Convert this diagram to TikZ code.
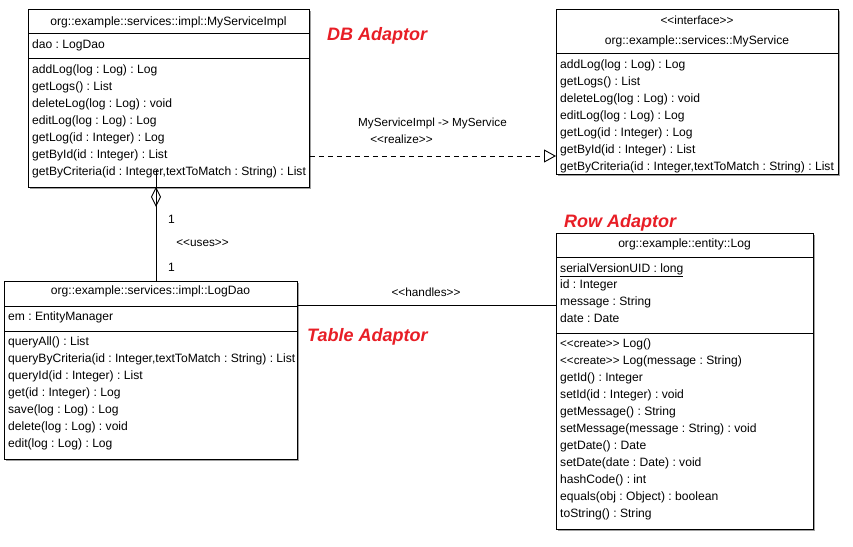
\documentclass[tikz,border=0pt]{standalone}
\usepackage{fontspec}
\setmainfont{Liberation Sans}
\usetikzlibrary{arrows.meta}
\definecolor{adred}{RGB}{232,30,38}
\definecolor{shadowgray}{RGB}{160,160,160}
\newcommand\stl{<\kern0pt<}
\newcommand\stg{>\kern0pt>}
\tikzset{
  umlbox/.style={draw=black, fill=white, line width=0.9pt, anchor=north west, inner sep=0pt},
  body/.style={anchor=base west, inner sep=0pt, font=\fontsize{12.1}{14}\selectfont\frenchspacing},
  head/.style={anchor=base, inner sep=0pt, font=\fontsize{12.1}{14}\selectfont\frenchspacing},
  stereo/.style={anchor=base, inner sep=0pt, font=\fontsize{11.8}{13}\selectfont\frenchspacing},
  adlabel/.style={anchor=base west, inner sep=0pt, text=adred, font=\fontsize{18}{20}\selectfont\bfseries\itshape},
  sep/.style={line width=0.9pt},
  conn/.style={line width=0.9pt},
  shadowbox/.style={fill=shadowgray, draw=none}
}
\begin{document}
\begin{tikzpicture}[x=1pt,y=-1pt]
\useasboundingbox[fill=white] (0,0) rectangle (853,546);

% ---------- shadows ----------
\fill[shadowbox] (30,11) rectangle (311,189);
\fill[shadowbox] (558,11) rectangle (840,176);
\fill[shadowbox] (6,283) rectangle (299,461);
\fill[shadowbox] (558,235) rectangle (815,531);

% ---------- MyServiceImpl ----------
\node[umlbox, minimum width=281pt, minimum height=178pt] (impl) at (28,9) {};
\draw[sep] ([yshift=-24pt]impl.north west) -- ([yshift=-24pt]impl.north east);
\draw[sep] ([yshift=-49pt]impl.north west) -- ([yshift=-49pt]impl.north east);
\node[head] (implh) at (168.5,25) {org::example::services::impl::MyServiceImpl};
\node[body] (impla1) at (32,48) {dao : LogDao};
\node[body] (implm1) at (32,73) {addLog(log : Log) : Log};
\node[body] (implm2) at (32,90) {getLogs() : List};
\node[body] (implm3) at (32,107) {deleteLog(log : Log) : void};
\node[body] (implm4) at (32,124) {editLog(log : Log) : Log};
\node[body] (implm5) at (32,141) {getLog(id : Integer) : Log};
\node[body] (implm6) at (32,158) {getById(id : Integer) : List};
\node[body] (implm7) at (32,175) {getByCriteria(id : Integer,textToMatch : String) : List};

% ---------- MyService ----------
\node[umlbox, minimum width=282pt, minimum height=165pt] (svc) at (556,9) {};
\draw[sep] ([yshift=-44pt]svc.north west) -- ([yshift=-44pt]svc.north east);
\node[stereo] (svcs) at (697,24) {\stl interface\stg};
\node[head] (svch) at (697,44) {org::example::services::MyService};
\node[body] (svcm1) at (560,68) {addLog(log : Log) : Log};
\node[body] (svcm2) at (560,85) {getLogs() : List};
\node[body] (svcm3) at (560,102) {deleteLog(log : Log) : void};
\node[body] (svcm4) at (560,119) {editLog(log : Log) : Log};
\node[body] (svcm5) at (560,136) {getLog(id : Integer) : Log};
\node[body] (svcm6) at (560,153) {getById(id : Integer) : List};
\node[body] (svcm7) at (560,170) {getByCriteria(id : Integer,textToMatch : String) : List};

% ---------- LogDao ----------
\node[umlbox, minimum width=293pt, minimum height=178pt] (dao) at (4,281) {};
\draw[sep] ([yshift=-25pt]dao.north west) -- ([yshift=-25pt]dao.north east);
\draw[sep] ([yshift=-50pt]dao.north west) -- ([yshift=-50pt]dao.north east);
\node[head] (daoh) at (150.5,294) {org::example::services::impl::LogDao};
\node[body] (daoa1) at (8,320) {em : EntityManager};
\node[body] (daom1) at (8,345) {queryAll() : List};
\node[body] (daom2) at (8,362) {queryByCriteria(id : Integer,textToMatch : String) : List};
\node[body] (daom3) at (8,379) {queryId(id : Integer) : List};
\node[body] (daom4) at (8,396) {get(id : Integer) : Log};
\node[body] (daom5) at (8,413) {save(log : Log) : Log};
\node[body] (daom6) at (8,430) {delete(log : Log) : void};
\node[body] (daom7) at (8,447) {edit(log : Log) : Log};

% ---------- Log ----------
\node[umlbox, minimum width=257pt, minimum height=296pt] (log) at (556,233) {};
\draw[sep] ([yshift=-24pt]log.north west) -- ([yshift=-24pt]log.north east);
\draw[sep] ([yshift=-100pt]log.north west) -- ([yshift=-100pt]log.north east);
\node[head] (logh) at (684.5,247) {org::example::entity::Log};
\node[body] (loga1) at (560,272) {\underline{serialVersionUID : long}};
\node[body] (loga2) at (560,288.5) {id : Integer};
\node[body] (loga3) at (560,305.5) {message : String};
\node[body] (loga4) at (560,322.5) {date : Date};
\node[body] (logm1) at (560,347.5) {{\fontsize{11.6}{13}\selectfont\stl create\stg} Log()};
\node[body] (logm2) at (560,364.5) {{\fontsize{11.6}{13}\selectfont\stl create\stg} Log(message : String)};
\node[body] (logm3) at (560,381.5) {getId() : Integer};
\node[body] (logm4) at (560,398.5) {setId(id : Integer) : void};
\node[body] (logm5) at (560,415.5) {getMessage() : String};
\node[body] (logm6) at (560,432.5) {setMessage(message : String) : void};
\node[body] (logm7) at (560,449.5) {getDate() : Date};
\node[body] (logm8) at (560,466.5) {setDate(date : Date) : void};
\node[body] (logm9) at (560,483.5) {hashCode() : int};
\node[body] (logm10) at (560,500.5) {equals(obj : Object) : boolean};
\node[body] (logm11) at (560,517.5) {toString() : String};

% ---------- red labels ----------
\node[adlabel] (dbad) at (327,40) {DB Adaptor};
\node[adlabel] (rowad) at (564,227) {Row Adaptor};
\node[adlabel] (tablead) at (307,341) {Table Adaptor};

% ---------- realize ----------
\coordinate (realy) at (0,156);
\draw[conn, dash pattern=on 5.5pt off 3.5pt, -{Triangle[open, length=12pt, width=13pt, line width=0.9pt]}]
  (impl.east |- realy) -- (svc.west |- realy);
\node[head, font=\fontsize{11.7}{14}\selectfont\frenchspacing] (reallbl) at (432.5,126) {MyServiceImpl -\kern0pt> MyService};
\node[stereo] (realst) at (401.5,143) {\stl realize\stg};

% ---------- uses (aggregation) ----------
\coordinate (aggx) at (156,0);
\draw[conn, fill=white] (impl.south -| aggx) -- ++(4.5,9) -- ++(-4.5,9) -- ++(-4.5,-9) -- cycle;
\draw[conn] ([yshift=18pt]impl.south -| aggx) -- (dao.north -| aggx);
\node[body] (mult1) at (168,223) {1};
\node[stereo] (usesst) at (202.5,246) {\stl uses\stg};
\node[body] (mult2) at (168,271) {1};

% ---------- handles ----------
\coordinate (handy) at (0,305.5);
\draw[conn] (dao.east |- handy) -- (log.west |- handy);
\node[stereo] (handst) at (426,296) {\stl handles\stg};

\end{tikzpicture}
\end{document}
